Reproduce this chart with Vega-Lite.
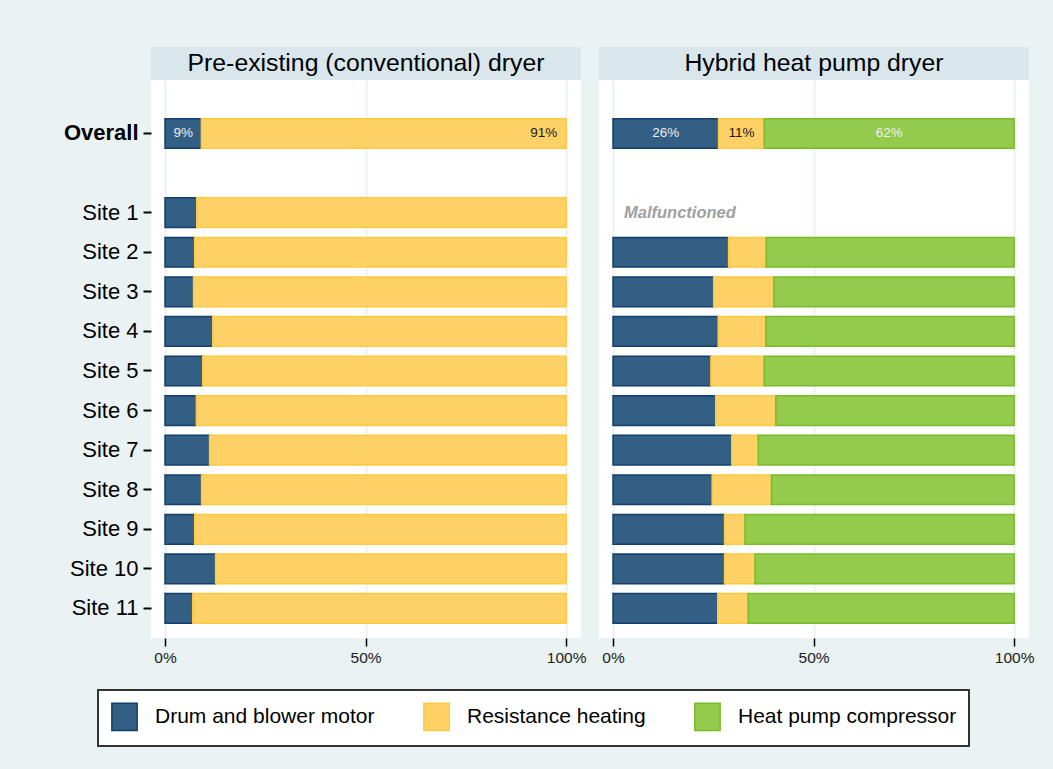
{
  "$schema": "https://vega.github.io/schema/vega-lite/v6.json",
  "background": "#EAF2F3",
  "padding": {"left": 63, "top": 47, "right": 19, "bottom": 27},
  "autosize": {"type": "pad"},
  "config": {
    "font": "Liberation Sans",
    "view": {"stroke": null}
  },
  "datasets": {
    "energy": [
      {"panel": "pre", "row": "Overall", "component": "Drum and blower motor", "pct": 9.05},
      {"panel": "pre", "row": "Overall", "component": "Resistance heating", "pct": 90.95},
      {"panel": "pre", "row": "Site 1", "component": "Drum and blower motor", "pct": 7.9},
      {"panel": "pre", "row": "Site 1", "component": "Resistance heating", "pct": 92.1},
      {"panel": "pre", "row": "Site 2", "component": "Drum and blower motor", "pct": 7.4},
      {"panel": "pre", "row": "Site 2", "component": "Resistance heating", "pct": 92.6},
      {"panel": "pre", "row": "Site 3", "component": "Drum and blower motor", "pct": 7.1},
      {"panel": "pre", "row": "Site 3", "component": "Resistance heating", "pct": 92.9},
      {"panel": "pre", "row": "Site 4", "component": "Drum and blower motor", "pct": 11.9},
      {"panel": "pre", "row": "Site 4", "component": "Resistance heating", "pct": 88.1},
      {"panel": "pre", "row": "Site 5", "component": "Drum and blower motor", "pct": 9.4},
      {"panel": "pre", "row": "Site 5", "component": "Resistance heating", "pct": 90.6},
      {"panel": "pre", "row": "Site 6", "component": "Drum and blower motor", "pct": 7.8},
      {"panel": "pre", "row": "Site 6", "component": "Resistance heating", "pct": 92.2},
      {"panel": "pre", "row": "Site 7", "component": "Drum and blower motor", "pct": 11.1},
      {"panel": "pre", "row": "Site 7", "component": "Resistance heating", "pct": 88.9},
      {"panel": "pre", "row": "Site 8", "component": "Drum and blower motor", "pct": 9.1},
      {"panel": "pre", "row": "Site 8", "component": "Resistance heating", "pct": 90.9},
      {"panel": "pre", "row": "Site 9", "component": "Drum and blower motor", "pct": 7.4},
      {"panel": "pre", "row": "Site 9", "component": "Resistance heating", "pct": 92.6},
      {"panel": "pre", "row": "Site 10", "component": "Drum and blower motor", "pct": 12.6},
      {"panel": "pre", "row": "Site 10", "component": "Resistance heating", "pct": 87.4},
      {"panel": "pre", "row": "Site 11", "component": "Drum and blower motor", "pct": 6.9},
      {"panel": "pre", "row": "Site 11", "component": "Resistance heating", "pct": 93.1},
      {"panel": "hyb", "row": "Overall", "component": "Drum and blower motor", "pct": 26.3},
      {"panel": "hyb", "row": "Overall", "component": "Resistance heating", "pct": 11.4},
      {"panel": "hyb", "row": "Overall", "component": "Heat pump compressor", "pct": 62.3},
      {"panel": "hyb", "row": "Site 2", "component": "Drum and blower motor", "pct": 28.8},
      {"panel": "hyb", "row": "Site 2", "component": "Resistance heating", "pct": 9.4},
      {"panel": "hyb", "row": "Site 2", "component": "Heat pump compressor", "pct": 61.8},
      {"panel": "hyb", "row": "Site 3", "component": "Drum and blower motor", "pct": 25.1},
      {"panel": "hyb", "row": "Site 3", "component": "Resistance heating", "pct": 15.0},
      {"panel": "hyb", "row": "Site 3", "component": "Heat pump compressor", "pct": 59.9},
      {"panel": "hyb", "row": "Site 4", "component": "Drum and blower motor", "pct": 26.2},
      {"panel": "hyb", "row": "Site 4", "component": "Resistance heating", "pct": 11.9},
      {"panel": "hyb", "row": "Site 4", "component": "Heat pump compressor", "pct": 61.9},
      {"panel": "hyb", "row": "Site 5", "component": "Drum and blower motor", "pct": 24.4},
      {"panel": "hyb", "row": "Site 5", "component": "Resistance heating", "pct": 13.3},
      {"panel": "hyb", "row": "Site 5", "component": "Heat pump compressor", "pct": 62.3},
      {"panel": "hyb", "row": "Site 6", "component": "Drum and blower motor", "pct": 25.6},
      {"panel": "hyb", "row": "Site 6", "component": "Resistance heating", "pct": 15.0},
      {"panel": "hyb", "row": "Site 6", "component": "Heat pump compressor", "pct": 59.4},
      {"panel": "hyb", "row": "Site 7", "component": "Drum and blower motor", "pct": 29.6},
      {"panel": "hyb", "row": "Site 7", "component": "Resistance heating", "pct": 6.6},
      {"panel": "hyb", "row": "Site 7", "component": "Heat pump compressor", "pct": 63.8},
      {"panel": "hyb", "row": "Site 8", "component": "Drum and blower motor", "pct": 24.7},
      {"panel": "hyb", "row": "Site 8", "component": "Resistance heating", "pct": 14.8},
      {"panel": "hyb", "row": "Site 8", "component": "Heat pump compressor", "pct": 60.5},
      {"panel": "hyb", "row": "Site 9", "component": "Drum and blower motor", "pct": 27.8},
      {"panel": "hyb", "row": "Site 9", "component": "Resistance heating", "pct": 5.1},
      {"panel": "hyb", "row": "Site 9", "component": "Heat pump compressor", "pct": 67.1},
      {"panel": "hyb", "row": "Site 10", "component": "Drum and blower motor", "pct": 27.8},
      {"panel": "hyb", "row": "Site 10", "component": "Resistance heating", "pct": 7.6},
      {"panel": "hyb", "row": "Site 10", "component": "Heat pump compressor", "pct": 64.6},
      {"panel": "hyb", "row": "Site 11", "component": "Drum and blower motor", "pct": 26.1},
      {"panel": "hyb", "row": "Site 11", "component": "Resistance heating", "pct": 7.6},
      {"panel": "hyb", "row": "Site 11", "component": "Heat pump compressor", "pct": 66.3}
    ]
  },
  "spacing": 13,
  "hconcat": [
    {
      "spacing": 0,
      "vconcat": [
        {
          "width": 430,
          "height": 33,
          "view": {"fill": "#D9E6EB", "stroke": null},
          "data": {"values": [{"title": "Pre-existing (conventional) dryer"}]},
          "mark": {"type": "text", "fontSize": 24.8, "color": "#000000", "baseline": "middle", "align": "center"},
          "encoding": {"text": {"field": "title", "type": "nominal"}}
        },
        {
          "width": 430,
          "height": 558,
          "view": {"fill": "#FFFFFF", "stroke": null},
          "data": {"name": "energy"},
          "transform": [
            {"filter": "datum.panel == 'pre'"},
            {"calculate": "indexof(['Drum and blower motor','Resistance heating','Heat pump compressor'], datum.component)", "as": "ord"},
            {"stack": "pct", "groupby": ["row"], "sort": [{"field": "ord", "order": "ascending"}], "as": ["x0", "x1"]},
            {"calculate": "(datum.x0 + datum.x1) / 2", "as": "xmid"},
            {"calculate": "format(datum.pct, '.0f') + '%'", "as": "label"}
          ],
          "encoding": {
            "y": {
              "field": "row",
              "type": "nominal",
              "scale": {
                "domain": ["Overall", "gap", "Site 1", "Site 2", "Site 3", "Site 4", "Site 5", "Site 6", "Site 7", "Site 8", "Site 9", "Site 10", "Site 11"],
                "paddingInner": 0.25,
                "paddingOuter": 0.674,
                "align": 0.7245
              },
              "axis": {
                "values": ["Overall", "Site 1", "Site 2", "Site 3", "Site 4", "Site 5", "Site 6", "Site 7", "Site 8", "Site 9", "Site 10", "Site 11"],
                "title": null,
                "domain": false,
                "grid": false,
                "ticks": true,
                "tickSize": 8,
                "tickWidth": 2,
                "tickColor": "#000000",
                "labelFontSize": 22,
                "labelColor": "#000000",
                "labelPadding": 5,
                "labelFontWeight": {"condition": {"test": "datum.value == 'Overall'", "value": "bold"}, "value": "normal"}
              }
            }
          },
          "layer": [
            {
              "mark": {"type": "bar", "strokeWidth": 1.5},
              "encoding": {
                "x": {
                  "field": "x0",
                  "type": "quantitative",
                  "scale": {"domain": [-3.5, 103.7], "nice": false, "zero": false},
                  "axis": {
                    "values": [0, 50, 100],
                    "labelExpr": "datum.value + '%'",
                    "title": null,
                    "domain": false,
                    "grid": true,
                    "gridColor": "#EAF2F3",
                    "gridWidth": 2,
                    "tickSize": 8,
                    "tickWidth": 1.5,
                    "tickColor": "#000000",
                    "labelFontSize": 15.5,
                    "labelColor": "#222222",
                    "labelPadding": 4
                  }
                },
                "x2": {"field": "x1"},
                "fill": {
                  "field": "component",
                  "type": "nominal",
                  "scale": {"domain": ["Drum and blower motor", "Resistance heating", "Heat pump compressor"], "range": ["#335F84", "#FED166", "#94CB4C"]},
                  "legend": {
                    "title": null,
                    "orient": "none",
                    "legendX": -53,
                    "legendY": 643,
                    "direction": "horizontal",
                    "symbolType": "M-0.92,-1H0.92V1H-0.92Z",
                    "symbolSize": 756,
                    "symbolStrokeWidth": 1.5,
                    "labelFontSize": 21,
                    "labelColor": "#000000",
                    "labelOffset": 16,
                    "labelLimit": 400,
                    "columnPadding": 45,
                    "padding": 12,
                    "strokeColor": "#333333",
                    "fillColor": "#FFFFFF",
                    "cornerRadius": 0,
                    "encode": {"legend": {"update": {"strokeWidth": {"value": 2}}}}
                  }
                },
                "stroke": {
                  "field": "component",
                  "type": "nominal",
                  "scale": {"domain": ["Drum and blower motor", "Resistance heating", "Heat pump compressor"], "range": ["#103F6E", "#FDC93F", "#78BC28"]},
                  "legend": {
                    "title": null,
                    "orient": "none",
                    "legendX": -53,
                    "legendY": 643,
                    "direction": "horizontal",
                    "symbolType": "M-0.92,-1H0.92V1H-0.92Z",
                    "symbolSize": 756,
                    "symbolStrokeWidth": 1.5,
                    "labelFontSize": 21,
                    "labelColor": "#000000",
                    "labelOffset": 16,
                    "labelLimit": 400,
                    "columnPadding": 45,
                    "padding": 12,
                    "strokeColor": "#333333",
                    "fillColor": "#FFFFFF",
                    "cornerRadius": 0,
                    "encode": {"legend": {"update": {"strokeWidth": {"value": 2}}}}
                  }
                }
              }
            },
            {
              "transform": [{"filter": "datum.row == 'Overall' && datum.component == 'Drum and blower motor'"}],
              "mark": {"type": "text", "fontSize": 13.5, "align": "center", "baseline": "middle", "color": "#EEEEEE"},
              "encoding": {
                "x": {"field": "xmid", "type": "quantitative"},
                "text": {"field": "label", "type": "nominal"}
              }
            },
            {
              "transform": [{"filter": "datum.row == 'Overall' && datum.component == 'Resistance heating'"}],
              "mark": {"type": "text", "fontSize": 13.5, "align": "right", "baseline": "middle", "dx": -9, "color": "#1A1A1A"},
              "encoding": {
                "x": {"field": "x1", "type": "quantitative"},
                "text": {"field": "label", "type": "nominal"}
              }
            }
          ]
        }
      ]
    },
    {
      "spacing": 0,
      "vconcat": [
        {
          "width": 430,
          "height": 33,
          "view": {"fill": "#D9E6EB", "stroke": null},
          "data": {"values": [{"title": "Hybrid heat pump dryer"}]},
          "mark": {"type": "text", "fontSize": 24.8, "color": "#000000", "baseline": "middle", "align": "center"},
          "encoding": {"text": {"field": "title", "type": "nominal"}}
        },
        {
          "width": 430,
          "height": 558,
          "view": {"fill": "#FFFFFF", "stroke": null},
          "encoding": {
            "y": {
              "field": "row",
              "type": "nominal",
              "scale": {
                "domain": ["Overall", "gap", "Site 1", "Site 2", "Site 3", "Site 4", "Site 5", "Site 6", "Site 7", "Site 8", "Site 9", "Site 10", "Site 11"],
                "paddingInner": 0.25,
                "paddingOuter": 0.674,
                "align": 0.7245
              },
              "axis": null
            }
          },
          "layer": [
            {
              "data": {"name": "energy"},
              "transform": [
                {"filter": "datum.panel == 'hyb'"},
                {"calculate": "indexof(['Drum and blower motor','Resistance heating','Heat pump compressor'], datum.component)", "as": "ord"},
                {"stack": "pct", "groupby": ["row"], "sort": [{"field": "ord", "order": "ascending"}], "as": ["x0", "x1"]},
                {"calculate": "(datum.x0 + datum.x1) / 2", "as": "xmid"},
                {"calculate": "format(datum.pct, '.0f') + '%'", "as": "label"}
              ],
              "layer": [
                {
                  "mark": {"type": "bar", "strokeWidth": 1.5},
                  "encoding": {
                    "x": {
                      "field": "x0",
                      "type": "quantitative",
                      "scale": {"domain": [-3.5, 103.7], "nice": false, "zero": false},
                      "axis": {
                        "values": [0, 50, 100],
                        "labelExpr": "datum.value + '%'",
                        "title": null,
                        "domain": false,
                        "grid": true,
                        "gridColor": "#EAF2F3",
                        "gridWidth": 2,
                        "tickSize": 8,
                        "tickWidth": 1.5,
                        "tickColor": "#000000",
                        "labelFontSize": 15.5,
                        "labelColor": "#222222",
                        "labelPadding": 4
                      }
                    },
                    "x2": {"field": "x1"},
                    "fill": {
                      "field": "component",
                      "type": "nominal",
                      "scale": {"domain": ["Drum and blower motor", "Resistance heating", "Heat pump compressor"], "range": ["#335F84", "#FED166", "#94CB4C"]},
                      "legend": {
                        "title": null,
                        "orient": "none",
                        "legendX": -53,
                        "legendY": 643,
                        "direction": "horizontal",
                        "symbolType": "M-0.92,-1H0.92V1H-0.92Z",
                        "symbolSize": 756,
                        "symbolStrokeWidth": 1.5,
                        "labelFontSize": 21,
                        "labelColor": "#000000",
                        "labelOffset": 16,
                        "labelLimit": 400,
                        "columnPadding": 45,
                        "padding": 12,
                        "strokeColor": "#333333",
                        "fillColor": "#FFFFFF",
                        "cornerRadius": 0,
                        "encode": {"legend": {"update": {"strokeWidth": {"value": 2}}}}
                      }
                    },
                    "stroke": {
                      "field": "component",
                      "type": "nominal",
                      "scale": {"domain": ["Drum and blower motor", "Resistance heating", "Heat pump compressor"], "range": ["#103F6E", "#FDC93F", "#78BC28"]},
                      "legend": {
                        "title": null,
                        "orient": "none",
                        "legendX": -53,
                        "legendY": 643,
                        "direction": "horizontal",
                        "symbolType": "M-0.92,-1H0.92V1H-0.92Z",
                        "symbolSize": 756,
                        "symbolStrokeWidth": 1.5,
                        "labelFontSize": 21,
                        "labelColor": "#000000",
                        "labelOffset": 16,
                        "labelLimit": 400,
                        "columnPadding": 45,
                        "padding": 12,
                        "strokeColor": "#333333",
                        "fillColor": "#FFFFFF",
                        "cornerRadius": 0,
                        "encode": {"legend": {"update": {"strokeWidth": {"value": 2}}}}
                      }
                    }
                  }
                },
                {
                  "transform": [{"filter": "datum.row == 'Overall'"}],
                  "mark": {"type": "text", "fontSize": 13.5, "align": "center", "baseline": "middle"},
                  "encoding": {
                    "x": {"field": "xmid", "type": "quantitative"},
                    "text": {"field": "label", "type": "nominal"},
                    "color": {"condition": {"test": "datum.component == 'Resistance heating'", "value": "#1A1A1A"}, "value": "#EEEEEE"}
                  }
                }
              ]
            },
            {
              "data": {"values": [{"row": "Site 1", "note": "Malfunctioned"}]},
              "mark": {"type": "text", "fontSize": 16.5, "fontWeight": "bold", "fontStyle": "italic", "color": "#A0A0A0", "align": "left", "baseline": "middle", "dx": 11},
              "encoding": {
                "x": {"datum": 0, "type": "quantitative"},
                "text": {"field": "note", "type": "nominal"}
              }
            }
          ]
        }
      ]
    }
  ]
}
